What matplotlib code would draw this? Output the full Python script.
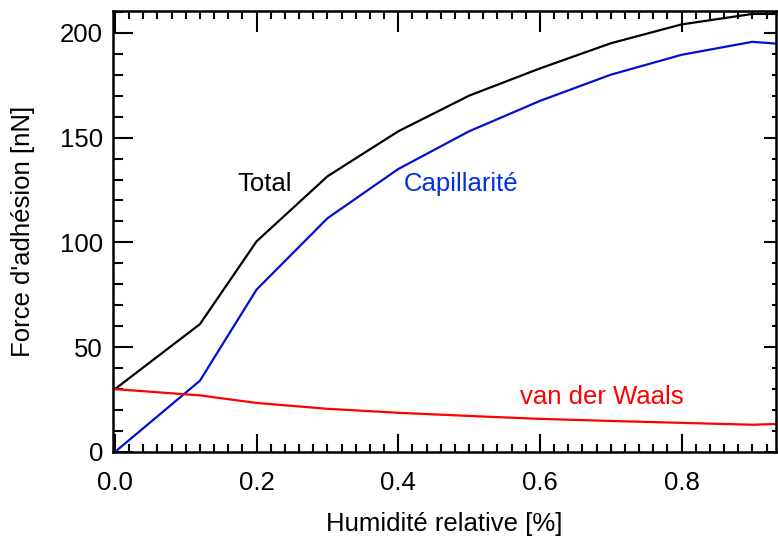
import numpy as np
import matplotlib.pyplot as plt
from matplotlib.ticker import MultipleLocator, NullFormatter

plt.rcParams['font.family'] = ['Liberation Sans', 'DejaVu Sans']

humidity = [0.0, 0.12, 0.2, 0.3, 0.4, 0.5, 0.6, 0.7, 0.8, 0.9, 0.94]
total = [30, 61, 100.5, 131.5, 153, 170, 183, 195, 204, 209, 209]
capillary = [0, 34, 77.5, 111.5, 135, 153, 167.5, 180, 189.5, 195.7, 194.7]
vdw = [30, 27, 23.4, 20.6, 18.7, 17.2, 15.8, 14.8, 13.9, 13.0, 13.4]

fs = 18.5
xlim = (-0.003, 0.934)
ylim = (0, 210.5)

fig = plt.figure(figsize=(7.78, 5.4), dpi=100)
ax = fig.add_axes([0.145, 0.163, 0.853, 0.817])

ax.plot(humidity, total, color='black', lw=1.6)
ax.plot(humidity, capillary, color='#0010d0', lw=1.6)
ax.plot(humidity, vdw, color='red', lw=1.6)

ax.text(0.212, 128, 'Total', color='black', fontsize=fs, ha='center', va='center')
ax.text(0.488, 128, 'Capillarité', color='#0030e0', fontsize=fs, ha='center', va='center')
ax.text(0.687, 26, 'van der Waals', color='red', fontsize=fs, ha='center', va='center')

ax.set_xlim(xlim)
ax.set_ylim(ylim)
ax.xaxis.set_major_locator(MultipleLocator(0.2))
ax.xaxis.set_minor_locator(MultipleLocator(0.02))
ax.yaxis.set_major_locator(MultipleLocator(50))
ax.yaxis.set_minor_locator(MultipleLocator(10))
ax.xaxis.set_major_formatter(plt.FuncFormatter(lambda v, p: f'{v:.1f}'))

ax.tick_params(which='both', direction='in', width=1.5, labelsize=fs)
ax.tick_params(axis='x', which='major', length=13, pad=14)
ax.tick_params(axis='x', which='minor', length=6)
ax.tick_params(axis='y', which='major', length=14.5, pad=7)
ax.tick_params(axis='y', which='minor', length=7)
for s in ax.spines.values():
    s.set_linewidth(1.8)

# top and right ticks are drawn with other lengths
top = ax.secondary_xaxis('top')
top.xaxis.set_major_locator(MultipleLocator(0.2))
top.xaxis.set_minor_locator(MultipleLocator(0.02))
top.xaxis.set_major_formatter(NullFormatter())
top.tick_params(which='both', direction='in', width=1.5)
top.tick_params(which='major', length=15)
top.tick_params(which='minor', length=5.5)

right = ax.secondary_yaxis('right')
right.yaxis.set_major_locator(MultipleLocator(50))
right.yaxis.set_minor_locator(MultipleLocator(10))
right.yaxis.set_major_formatter(NullFormatter())
right.tick_params(which='both', direction='in', width=1.5)
right.tick_params(which='major', length=9)
right.tick_params(which='minor', length=3)

ax.set_xlabel('Humidité relative [%]', fontsize=fs, labelpad=12)
ax.set_ylabel("Force d'adhésion [nN]", fontsize=fs, labelpad=18)

fig.savefig('out.png', dpi=100)
